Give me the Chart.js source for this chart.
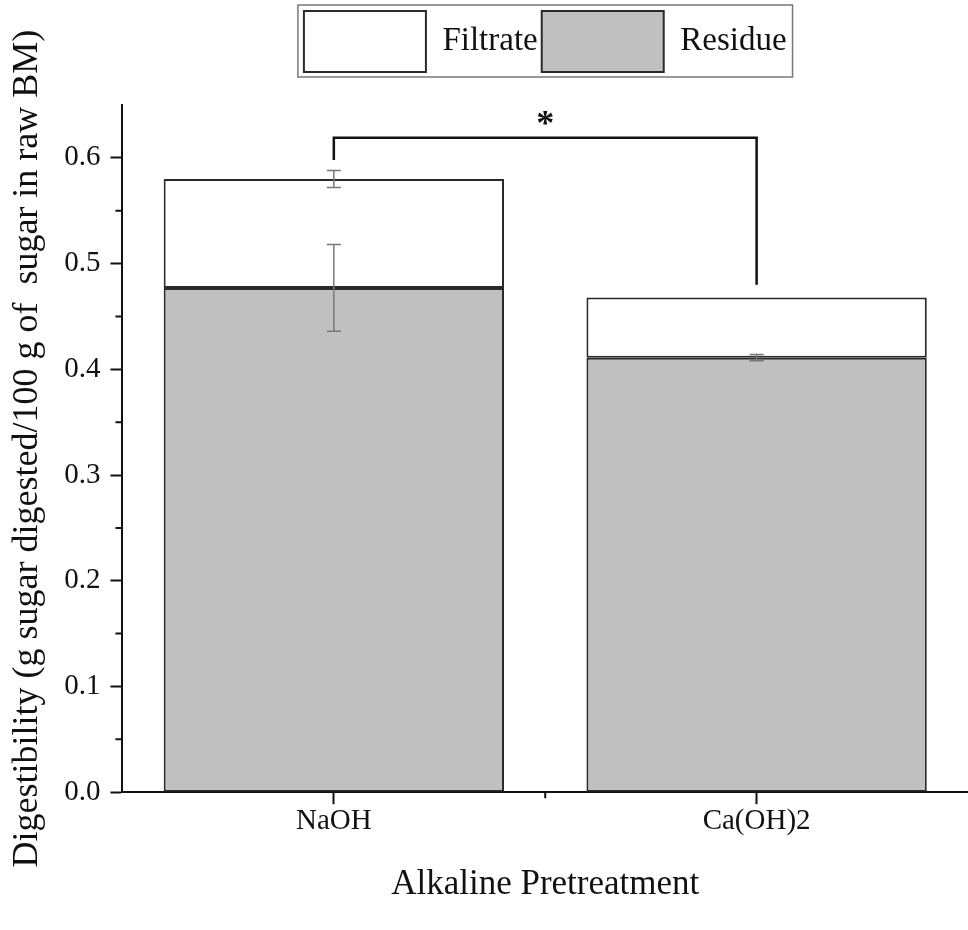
<!DOCTYPE html>
<html lang="en">
<head>
    <meta charset="UTF-8">
    <title>Alkaline Pretreatment Digestibility</title>
    <script src="https://cdn.jsdelivr.net/npm/chart.js"></script>
    <style>
        body { margin: 0; background: #fff; }
        canvas { display: block; }
    </style>
</head>
<body>
    <canvas id="digestChart" width="968" height="930"></canvas>

    <script>
        // data
        const categories = ['NaOH', 'Ca(OH)2'];
        const residue = [0.477, 0.411];
        const filtrate = [0.103, 0.057];
        const residueErr = [0.041, 0.003];
        const totalErr = [0.008, 0];
        const yTicks = [0.0, 0.1, 0.2, 0.3, 0.4, 0.5, 0.6];
        const yMinorTicks = [0.05, 0.15, 0.25, 0.35, 0.45, 0.55];
        const sigLegBottom = [0.598, 0.480]; // bracket feet, one per category
        const sigTop = 0.619;
        const sigMark = '*';
        const sigMarkValue = 0.636;

        const serif = "'Liberation Serif', 'Times New Roman', serif";
        Chart.defaults.font.family = serif;
        Chart.defaults.color = '#111';

        // error bars, minor ticks, significance bracket, legend frame
        const extras = {
            id: 'extras',
            afterInit(chart) {
                const legend = chart.legend;
                const fit = legend.fit;
                legend.fit = function () {
                    fit.call(this);
                    this.height = 98;
                };
            },
            afterDatasetsDraw(chart) {
                const ctx = chart.ctx;
                const x = chart.scales.x, y = chart.scales.y;
                ctx.save();
                ctx.strokeStyle = '#777';
                ctx.lineWidth = 1.5;
                const cap = 7;
                function errBar(cx, v, e) {
                    if (!e) return;
                    const t = y.getPixelForValue(v + e), b = y.getPixelForValue(v - e);
                    ctx.beginPath();
                    ctx.moveTo(cx, t); ctx.lineTo(cx, b);
                    ctx.moveTo(cx - cap, t); ctx.lineTo(cx + cap, t);
                    ctx.moveTo(cx - cap, b); ctx.lineTo(cx + cap, b);
                    ctx.stroke();
                }
                categories.forEach((c, i) => {
                    const cx = x.getPixelForValue(i);
                    errBar(cx, residue[i], residueErr[i]);
                    errBar(cx, residue[i] + filtrate[i], totalErr[i]);
                });

                // bracket
                const x0 = x.getPixelForValue(0), x1 = x.getPixelForValue(1);
                ctx.strokeStyle = '#111';
                ctx.lineWidth = 2.5;
                ctx.beginPath();
                ctx.moveTo(x0, y.getPixelForValue(sigLegBottom[0]));
                ctx.lineTo(x0, y.getPixelForValue(sigTop));
                ctx.lineTo(x1, y.getPixelForValue(sigTop));
                ctx.lineTo(x1, y.getPixelForValue(sigLegBottom[1]));
                ctx.stroke();
                ctx.fillStyle = '#111';
                ctx.font = 'bold 36px ' + serif;
                ctx.textAlign = 'center';
                ctx.textBaseline = 'alphabetic';
                ctx.fillText(sigMark, (x0 + x1) / 2, y.getPixelForValue(sigMarkValue) + 15);

                // minor ticks
                ctx.lineWidth = 2;
                const area = chart.chartArea;
                ctx.beginPath();
                yMinorTicks.forEach(v => {
                    const py = y.getPixelForValue(v);
                    ctx.moveTo(area.left - 7, py); ctx.lineTo(area.left, py);
                });
                const mx = (x0 + x1) / 2;
                ctx.moveTo(mx, area.bottom); ctx.lineTo(mx, area.bottom + 6);
                ctx.stroke();
                ctx.restore();
            },
            afterDraw(chart) {
                const boxes = chart.legend.legendHitBoxes;
                if (!boxes || !boxes.length) return;
                const l = Math.min(...boxes.map(b => b.left));
                const r = Math.max(...boxes.map(b => b.left + b.width));
                const t = Math.min(...boxes.map(b => b.top));
                const b = Math.max(...boxes.map(h => h.top + h.height));
                const ctx = chart.ctx;
                ctx.save();
                ctx.strokeStyle = '#777';
                ctx.lineWidth = 1.5;
                ctx.strokeRect(l - 6, t - 6, r - l + 12, b - t + 11);
                ctx.restore();
            }
        };

        new Chart(document.getElementById('digestChart'), {
            type: 'bar',
            data: {
                labels: categories,
                datasets: [{
                    label: 'Residue',
                    data: residue,
                    backgroundColor: '#c0c0c0',
                    borderColor: '#2a2a2a',
                    borderWidth: 2,
                    borderSkipped: false
                }, {
                    label: 'Filtrate',
                    data: filtrate,
                    backgroundColor: '#ffffff',
                    borderColor: '#2a2a2a',
                    borderWidth: 2,
                    borderSkipped: false
                }]
            },
            options: {
                responsive: false,
                animation: false,
                layout: { padding: { top: 7, left: 0, right: 0, bottom: 0 } },
                datasets: { bar: { categoryPercentage: 1, barPercentage: 0.805 } },
                plugins: {
                    tooltip: { enabled: false },
                    legend: {
                        position: 'top',
                        fullSize: false,
                        reverse: true,
                        labels: {
                            boxWidth: 122,
                            boxHeight: 61,
                            padding: 4,
                            color: '#111',
                            font: { size: 33 }
                        }
                    }
                },
                scales: {
                    x: {
                        stacked: true,
                        offset: true,
                        grid: {
                            offset: false,
                            drawOnChartArea: false,
                            tickLength: 12,
                            tickWidth: 2,
                            tickColor: '#111'
                        },
                        border: { color: '#111', width: 2 },
                        ticks: { color: '#111', font: { size: 29 }, padding: 0 },
                        title: {
                            display: true,
                            text: 'Alkaline Pretreatment',
                            color: '#111',
                            font: { size: 35 },
                            padding: { top: 25, bottom: 24 }
                        }
                    },
                    y: {
                        stacked: true,
                        min: 0,
                        max: 0.65,
                        afterBuildTicks: scale => {
                            scale.ticks = yTicks.map(v => ({ value: v }));
                        },
                        grid: {
                            drawOnChartArea: false,
                            tickLength: 12,
                            tickWidth: 2,
                            tickColor: '#111'
                        },
                        border: { color: '#111', width: 2 },
                        ticks: {
                            color: '#111',
                            font: { size: 29 },
                            padding: 10,
                            callback: v => Number(v).toFixed(1)
                        },
                        title: {
                            display: true,
                            text: 'Digestibility (g sugar digested/100 g of  sugar in raw BM)',
                            color: '#111',
                            font: { size: 36 },
                            padding: { top: 6, bottom: 5 }
                        }
                    }
                }
            },
            plugins: [extras]
        });
    </script>
</body>
</html>
